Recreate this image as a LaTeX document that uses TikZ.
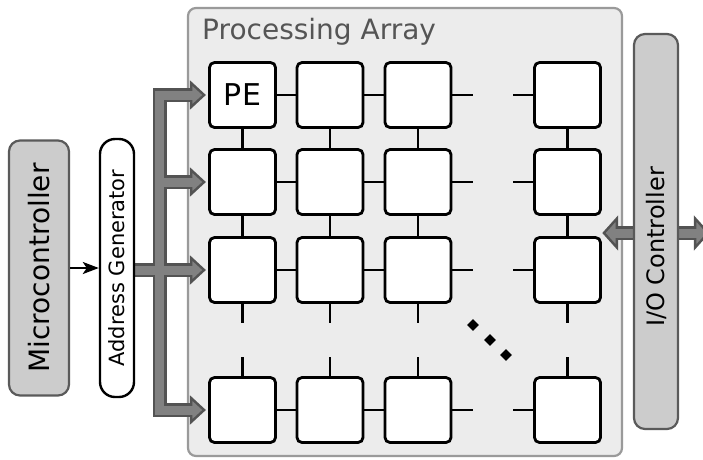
\documentclass[tikz,border=0pt]{standalone}
\usepackage{fontspec}
\setmainfont{DejaVu Sans}
\usetikzlibrary{arrows.meta,shapes.geometric,calc}
\definecolor{busfill}{HTML}{818181}
\definecolor{busline}{HTML}{535353}
\definecolor{unitfill}{HTML}{CCCCCC}
\definecolor{unitline}{HTML}{5A5A5A}
\definecolor{arrayfill}{HTML}{ECECEC}
\definecolor{arrayline}{HTML}{9A9A9A}
\definecolor{titlegray}{HTML}{555555}
\pgfdeclarelayer{back}
\pgfdeclarelayer{bus}
\pgfsetlayers{back,bus,main}

% one pass over every bus route; #1 = stroke style, #2 = extension into the heads
\newcommand\busroutes[2]{%
  \draw[#1] ($(h1)+(#2,0)$) -- (bt) -- (bb) -- ($(h4)+(#2,0)$);
  \draw[#1] (bt |- h2) -- ($(h2)+(#2,0)$);
  \draw[#1] (ag.south |- h3) -- ($(h3)+(#2,0)$);
}
% right-pointing block arrow head with its base at #1
\newcommand\headright[2]{%
  \filldraw[busfill, draw=busline, line width=2.4pt, line join=miter]
    ($(#1)+(0,-#2)$) -- ($(#1)+(13,0)$) -- ($(#1)+(0,#2)$) -- cycle;
}
\newcommand\headleft[2]{%
  \filldraw[busfill, draw=busline, line width=2.4pt, line join=miter]
    ($(#1)+(0,-#2)$) -- ($(#1)+(-13,0)$) -- ($(#1)+(0,#2)$) -- cycle;
}

\begin{document}
\begin{tikzpicture}[x=1pt, y=-1pt,
  pe/.style={draw, line width=2.8pt, rounded corners=5pt, fill=white,
    minimum width=66pt, minimum height=65pt, inner sep=0pt,
    font=\fontsize{30}{30}\selectfont},
  link/.style={line width=2.7pt, line cap=butt},
  unit/.style={draw=unitline, fill=unitfill, line width=2.2pt, inner sep=0pt},
  dot/.style={diamond, fill=black, inner sep=0pt, minimum size=12pt},
  outer bus/.style={busline, line width=14pt, line join=miter, line cap=butt},
  inner bus/.style={busfill, line width=9pt, line join=miter, line cap=butt},
]
\useasboundingbox (0,0) rectangle (703,459);

% processing array frame and title
\begin{pgfonlayer}{back}
  \node[draw=arrayline, fill=arrayfill, line width=2.2pt, rounded corners=8pt,
        minimum width=434pt, minimum height=448pt, inner sep=0pt]
        (pa) at (405,232) {};
\end{pgfonlayer}
\node[anchor=base west, text=titlegray, font=\fontsize{28}{28}\selectfont,
      inner sep=0pt] (title) at (202,39) {Processing Array};

% processing elements
\foreach \r/\y in {1/95,2/182,3/270,4/410}
  \foreach \c/\x in {1/242.5,2/330,3/418,4/567.5}
    \node[pe] (p\r\c) at (\x,\y) {\ifnum\r\c=11 PE\fi};

% row links
\foreach \r in {1,2,3,4} {
  \draw[link] (p\r1) -- (p\r2) (p\r2) -- (p\r3);
  \draw[link] (p\r3.east) -- ++(21,0);
  \draw[link] (p\r4.west) -- ++(-20,0);
}
% column links
\foreach \c in {1,2,3,4} {
  \draw[link] (p1\c) -- (p2\c) (p2\c) -- (p3\c);
  \draw[link] (p3\c.south) -- ++(0,19);
  \draw[link] (p4\c.north) -- ++(0,-19);
}

% ellipsis dots
\node[dot] (d1) at (473,325) {};
\node[dot] (d2) at (490,340) {};
\node[dot] (d3) at (506,355) {};

% control units
\node[unit, rotate=90, rounded corners=11pt, minimum width=255pt,
      minimum height=60pt, font=\fontsize{28}{28}\selectfont]
      (mc) at (39,268) {Microcontroller};
\node[draw, fill=white, line width=2.4pt, rotate=90, rounded corners=15pt,
      inner sep=0pt, minimum width=258pt, minimum height=34pt,
      font=\fontsize{21}{21}\selectfont]
      (ag) at (117,268) {Address Generator};
\draw[line width=2.3pt, -{Stealth[length=16pt, width=12pt, inset=4pt]}]
  (mc.south) -- (ag.north);

\node[unit, rounded corners=11pt, minimum width=44pt, minimum height=395pt]
      (io) at (656,231.5) {};
\node[rotate=90, font=\fontsize{24}{24}\selectfont, inner sep=0pt]
      (iotext) at (656,247) {I/O Controller};

% address bus to the array rows
\coordinate (bt) at (159.5,95);
\coordinate (bb) at (159.5,410);
\coordinate (h1) at ($(p11.west)+(-17,0)$);
\coordinate (h2) at ($(p21.west)+(-17,0)$);
\coordinate (h3) at ($(p31.west)+(-17,0)$);
\coordinate (h4) at ($(p41.west)+(-17,0)$);
% data link through the I/O controller
\coordinate (iol) at ($(io.west)+(-16,1.5)$);
\coordinate (ior) at ($(io.east)+(16,1.5)$);

\begin{pgfonlayer}{bus}
  \busroutes{outer bus}{0}
  \draw[outer bus] (iol) -- (ior);
  \headright{h1}{12}
  \headright{h2}{12}
  \headright{h3}{12}
  \headright{h4}{12}
  \headleft{iol}{14.5}
  \headright{ior}{14.5}
  \busroutes{inner bus}{2.5}
  \draw[inner bus] ($(iol)+(-2.5,0)$) -- ($(ior)+(2.5,0)$);
\end{pgfonlayer}
\end{tikzpicture}
\end{document}
